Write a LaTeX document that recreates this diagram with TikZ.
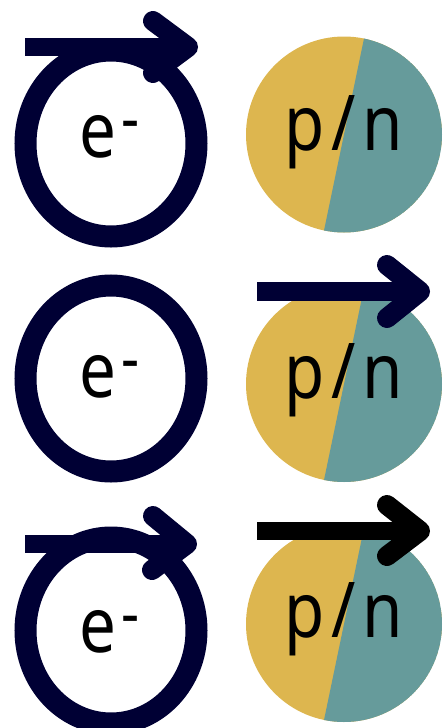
\documentclass[tikz,border=0pt]{standalone}
\usepackage{fontspec}
\setmainfont{Noto Sans}
\usetikzlibrary{calc}
\definecolor{navy}{RGB}{0,0,52}
\definecolor{gold}{RGB}{221,182,79}
\definecolor{tealc}{RGB}{102,155,155}
\newcommand{\eminus}{\scalebox{0.85}[1]{e\kern6pt\raisebox{16pt}{\fontsize{66}{66}\selectfont -}}}
\newcommand{\pn}{\scalebox{0.85}[1]{p\kern8pt/\kern8pt n}}
\tikzset{
  ring/.style={draw=navy, line width=22pt},
  bigtext/.style={font=\fontsize{77}{80}\selectfont, inner sep=0pt, anchor=base},
  shaft/.style={line width=18.5pt, line cap=butt},
  head/.style={line width=20pt, line cap=round, line join=round},
}
\begin{document}
\begin{tikzpicture}[x=1pt,y=-1pt]
\useasboundingbox (0,0) rectangle (447,728);
% ---------- pies ----------
\foreach \cx/\cy/\nm in {344/134.5/pa, 344/384/pb, 344/624/pc}{
  \coordinate (\nm) at (\cx,\cy);
  \begin{scope}
    \clip (\nm) circle (98);
    \fill[gold] (\nm) circle (98);
    \fill[tealc] ($(\nm)+(25,-120)$) -- ($(\nm)+(-25,120)$) -- ($(\nm)+(150,120)$) -- ($(\nm)+(150,-120)$) -- cycle;
  \end{scope}
}
% ---------- rings ----------
\coordinate (ra) at (111,143.5);
\coordinate (rb) at (111,378.5);
\coordinate (rc) at (111,630.5);
\foreach \nm in {ra,rb,rc}{
  \draw[ring] (\nm) ellipse [x radius=85.5, y radius=93];
}
% ---------- texts ----------
\node[bigtext] (ea) at (110,157) {\eminus};
\node[bigtext] (eb) at (110,397) {\eminus};
\node[bigtext] (ec) at (110,652) {\eminus};
\node[bigtext] (na) at (344,150) {\pn};
\node[bigtext] (nb) at (344,398) {\pn};
\node[bigtext] (nc) at (344,637) {\pn};
% ---------- arrows ----------
% row 1, electron
\coordinate (a1s) at (25,47);   \coordinate (a1t) at (188,47);
\coordinate (a1u) at (153,21);  \coordinate (a1d) at (153,73);
\draw[navy, shaft] (a1s) -- (a1t);
\draw[navy, head] (a1u) -- (a1t) -- (a1d);
% row 2, nucleon
\coordinate (a2s) at (257,291.5); \coordinate (a2t) at (420,291.5);
\coordinate (a2u) at (387,265);   \coordinate (a2d) at (387,318);
\draw[navy, shaft] (a2s) -- (a2t);
\draw[navy, head] (a2u) -- (a2t) -- (a2d);
% row 3, electron
\coordinate (a3s) at (25,544);   \coordinate (a3t) at (187,544);
\coordinate (a3u) at (153,516);  \coordinate (a3d) at (152,570);
\draw[navy, shaft] (a3s) -- (a3t);
\draw[navy, head] (a3u) -- (a3t) -- (a3d);
% row 3, nucleon (black)
\coordinate (a4s) at (257,531); \coordinate (a4t) at (420,531);
\coordinate (a4u) at (387,505); \coordinate (a4d) at (387,556);
\draw[black, shaft] (a4s) -- (a4t);
\draw[black, head] (a4u) -- (a4t) -- (a4d);
\end{tikzpicture}
\end{document}
